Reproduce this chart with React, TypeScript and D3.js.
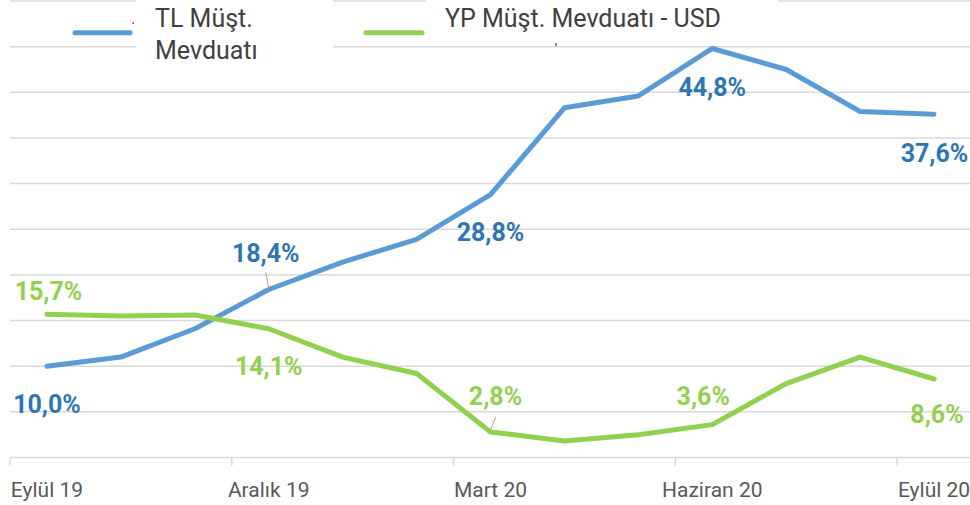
import React from "react";
import * as d3 from "d3";

const months = [
  "Eylül 19", "Ekim 19", "Kasım 19", "Aralık 19", "Ocak 20", "Şubat 20", "Mart 20",
  "Nisan 20", "Mayıs 20", "Haziran 20", "Temmuz 20", "Ağustos 20", "Eylül 20",
];
const tlValues = [10.0, 11.0, 14.1, 18.4, 21.4, 23.9, 28.8, 38.3, 39.6, 44.8, 42.5, 37.9, 37.6];
const ypValues = [15.7, 15.5, 15.6, 14.1, 11.0, 9.2, 2.8, 1.8, 2.5, 3.6, 8.1, 11.0, 8.6];
const tickLabelIdx = [0, 3, 6, 9, 12];
const yTicks = [0, 5, 10, 15, 20, 25, 30, 35, 40, 45, 50];
const tlLegend = ["TL Müşt.", "Mevduatı"];
const ypLegend = ["YP Müşt. Mevduatı - USD"];
const labelIdx = [0, 3, 6, 9, 12];

// label placement (style)
const tlLabelOffsets = [[0, 46.5], [-3, -28], [0, 46.5], [0, 48], [0.5, 47.5]];
const ypLabelOffsets = [[1.5, -14], [0, 46], [5, -26.5], [-9, -19.5], [3, 44]];

const W = 970, H = 505;
const BLUE = "#5B9BD5", BLUE_LBL = "#2E75B6", GREEN = "#92D050", GRID = "#D9D9D9";
const FONT = "Roboto, 'Open Sans', sans-serif";

export default function App() {
  const x = d3.scaleBand<string>().domain(months).range([10, 971]);
  const cx = (i: number) => (x(months[i]) as number) + x.bandwidth() / 2;
  const y = d3.scaleLinear().domain([0, 50]).range([457.5, 1]);
  const line = d3.line<number>().x((_, i) => cx(i)).y((d) => y(d));
  const fmt = (v: number) => d3.format(".1f")(v).replace(".", ",") + "%";

  return (
    <svg width={W} height={H} style={{ position: "absolute", left: 0, top: 0, background: "#fff" }}>
      {yTicks.filter((t) => t > 0).map((t) => (
        <line key={t} x1={10} x2={W} y1={y(t)} y2={y(t)} stroke={GRID} strokeWidth={1.5} />
      ))}
      <line x1={10} x2={W} y1={y(0)} y2={y(0)} stroke={GRID} strokeWidth={1.5} />
      {tickLabelIdx.map((i) => (
        <line key={i} x1={x(months[i]) as number} x2={x(months[i]) as number} y1={y(0)} y2={y(0) + 8} stroke={GRID} strokeWidth={1.5} />
      ))}
      {tickLabelIdx.map((i) => (
        <text key={i} x={cx(i)} y={497} textAnchor="middle" fontFamily={FONT} fontSize={21} fill="#595959">
          {months[i]}
        </text>
      ))}

      {/* legend */}
      <rect x={136} y={-2} width={197} height={68} fill="#fff" />
      <rect x={426} y={-2} width={352} height={46} fill="#fff" />
      <line x1={75} x2={130} y1={32.7} y2={32.7} stroke={BLUE} strokeWidth={5} strokeLinecap="round" />
      <rect x={132.5} y={22.5} width={1.5} height={1.5} fill="#404040" />
      {tlLegend.map((t, k) => (
        <text key={k} x={155} y={26.7 + k * 32.5} fontFamily={FONT} fontSize={25} fill="#404040">{t}</text>
      ))}
      <line x1={366} x2={422} y1={32.7} y2={32.7} stroke={GREEN} strokeWidth={5} strokeLinecap="round" />
      {ypLegend.map((t, k) => (
        <text key={k} x={445} y={26.5} fontFamily={FONT} fontSize={25} fill="#404040">{t}</text>
      ))}
      <rect x={555.5} y={43} width={1.2} height={3} fill="#404040" />

      <path d={line(tlValues) || ""} fill="none" stroke={BLUE} strokeWidth={5} strokeLinejoin="round" strokeLinecap="round" />
      <path d={line(ypValues) || ""} fill="none" stroke={GREEN} strokeWidth={5} strokeLinejoin="round" strokeLinecap="round" />

      {/* leader lines */}
      <line x1={cx(3) - 3} y1={y(tlValues[3]) - 17} x2={cx(3)} y2={y(tlValues[3]) - 1} stroke="#A6A6A6" strokeWidth={1} />
      <line x1={cx(6) + 5} y1={y(ypValues[6]) - 14.5} x2={cx(6) - 0.7} y2={y(ypValues[6]) - 0.3} stroke="#A6A6A6" strokeWidth={1} />

      {labelIdx.map((i, k) => (
        <text key={"t" + i} x={cx(i) + tlLabelOffsets[k][0]} y={y(tlValues[i]) + tlLabelOffsets[k][1]}
          textAnchor="middle" fontFamily={FONT} fontWeight={700} fontSize={25} fill={BLUE_LBL}>
          {fmt(tlValues[i])}
        </text>
      ))}
      {labelIdx.map((i, k) => (
        <text key={"y" + i} x={cx(i) + ypLabelOffsets[k][0]} y={y(ypValues[i]) + ypLabelOffsets[k][1]}
          textAnchor="middle" fontFamily={FONT} fontWeight={700} fontSize={25} fill={GREEN}>
          {fmt(ypValues[i])}
        </text>
      ))}
    </svg>
  );
}
